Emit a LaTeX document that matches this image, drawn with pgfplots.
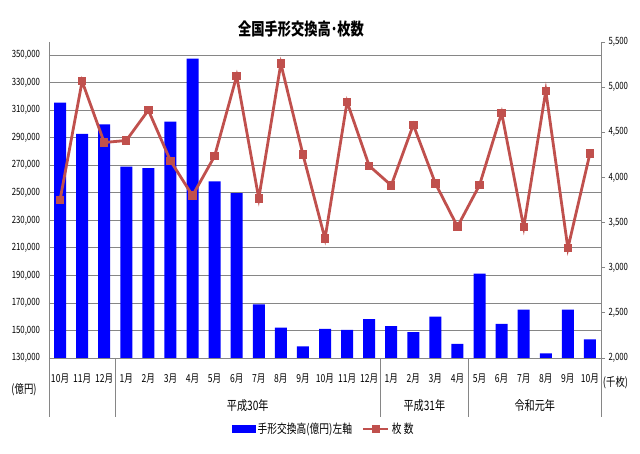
\documentclass[border=0pt]{standalone}
\usepackage{fontspec}
\setmainfont{Noto Sans CJK JP}[FakeStretch=0.78]
\usepackage{pgfplots}
\pgfplotsset{compat=1.18}
\definecolor{barblue}{RGB}{0,0,255}
\definecolor{linered}{RGB}{192,80,77}
\definecolor{axgray}{RGB}{134,134,134}
\newcommand{\tf}{\fontsize{10}{12}\selectfont}
\newcommand{\mf}{\fontsize{11}{13}\selectfont}
\newcommand{\gf}{\fontsize{13}{15}\selectfont}
\newcommand{\lf}{\fontsize{12.5}{14}\selectfont}
\begin{document}
\begin{tikzpicture}[x=1pt,y=1pt]
\path[use as bounding box] (0pt,0pt) rectangle (640pt,454pt);
\begin{axis}[
  at={(49pt,96pt)}, anchor=south west,
  width=552pt, height=316pt, scale only axis,
  xmin=-0.5, xmax=24.5, ymin=130000, ymax=359600,
  axis line style={draw=none},
  ytick={130000,150000,...,350000},
  ymajorgrids, grid style={axgray, line width=0.8pt},
  xtick={0,...,24},
  xticklabels={10月,11月,12月,1月,2月,3月,4月,5月,6月,7月,8月,9月,10月,11月,12月,1月,2月,3月,4月,5月,6月,7月,8月,9月,10月},
  xticklabel style={anchor=center, yshift=-20.7pt, font=\mf},
  yticklabel style={font=\tf, xshift=-5.5pt},
  major tick length=0pt,
  tick style={draw=none},
  /pgf/number format/.cd, fixed, assume math mode=true, 1000 sep={,},
  /pgfplots/.cd,
  scaled y ticks=false,
  clip=false,
]
\addplot[ybar, bar width=12pt, fill=barblue, draw=none] coordinates {
(0,315500) (1,292900) (2,299800) (3,269000) (4,268000) (5,301800)
(6,347600) (7,258400) (8,249800) (9,169000) (10,152000) (11,138400)
(12,151200) (13,150500) (14,158200) (15,153200) (16,148800) (17,160100)
(18,140200) (19,191300) (20,154800) (21,165200) (22,133400) (23,165200)
(24,143500)};
\end{axis}
\begin{axis}[
  at={(49pt,96pt)}, anchor=south west,
  width=552pt, height=316pt, scale only axis,
  xmin=-0.5, xmax=24.5, ymin=2000, ymax=5500,
  axis x line=none,
  axis y line*=right,
  axis line style={draw=none},
  ytick={2000,2500,...,5500},
  yticklabel style={font=\tf},
  tick align=outside, major tick length=4pt,
  ytick style={axgray, line width=0.8pt},
  /pgf/number format/.cd, fixed, assume math mode=true, 1000 sep={,},
  /pgfplots/.cd,
  scaled y ticks=false,
  clip=false,
  legend columns=2,
  legend style={at={(0.498,-0.2247)}, anchor=center, draw=none, fill=none,
    font=\lf, inner sep=1pt,
    /tikz/every even column/.append style={column sep=8pt}},
]
\addlegendimage{legend image code/.code={\fill[barblue] (0pt,-3.5pt) rectangle (23pt,3.5pt);}}
\addlegendentry{手形交換高(億円)左軸}
\addplot[color=linered, line width=2.8pt, mark=square*, mark size=3.7pt,
  mark options={solid, fill=linered, draw=linered, line width=0pt},
  legend image code/.code={\draw[linered, line width=2.8pt] (0pt,0pt) -- (25pt,0pt); \fill[linered] (9.5pt,-3pt) rectangle (15.5pt,3pt);}] coordinates {
(0,3750) (1,5065) (2,4387) (3,4409) (4,4745) (5,4185) (6,3798) (7,4236)
(8,5124) (9,3768) (10,5260) (11,4255) (12,3322) (13,4837) (14,4129)
(15,3912) (16,4583) (17,3934) (18,3455) (19,3916) (20,4715) (21,3448)
(22,4958) (23,3216) (24,4266)};
\addlegendentry{枚 数}
\end{axis}
% axis frame lines and group separators
\draw[axgray, line width=0.8pt] (49pt,412pt) -- (49pt,37pt);
\draw[axgray, line width=0.8pt] (601pt,412pt) -- (601pt,37pt);
\draw[axgray, line width=0.8pt] (49pt,96pt) -- (601pt,96pt);
\draw[axgray, line width=0.8pt] (115.24pt,96pt) -- (115.24pt,37pt);
\draw[axgray, line width=0.8pt] (380.2pt,96pt) -- (380.2pt,37pt);
\draw[axgray, line width=0.8pt] (468.52pt,96pt) -- (468.52pt,37pt);
% group labels
\node[font=\gf] at (247.7pt,48pt) {平成30年};
\node[font=\gf] at (424.4pt,48pt) {平成31年};
\node[font=\gf] at (534.8pt,48pt) {令和元年};
\node[font=\fontsize{12}{14}\selectfont] at (24pt,64pt) {(億円)};
\node[font=\fontsize{12}{14}\selectfont] at (615.5pt,71pt) {(千枚)};
% title
\node[font=\fontsize{17}{19}\selectfont\bfseries] at (301pt,425pt) {全国手形交換高･枚数};
\end{tikzpicture}
\end{document}
